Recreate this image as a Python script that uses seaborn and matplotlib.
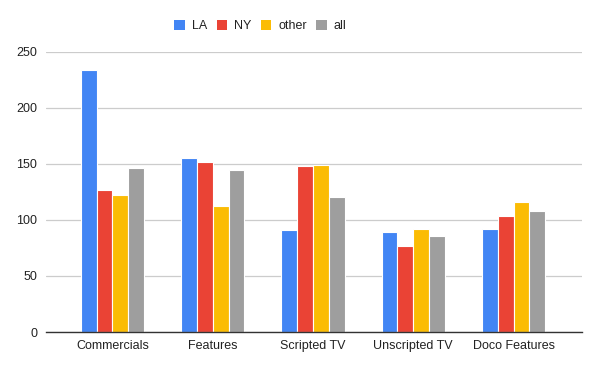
import matplotlib
matplotlib.use('Agg')
import matplotlib.pyplot as plt
import pandas as pd
import seaborn as sns

# Chart data
categories = ['Commercials', 'Features', 'Scripted TV', 'Unscripted TV', 'Doco Features']
series = ['LA', 'NY', 'other', 'all']
la = [234, 155, 91, 89, 92]
ny = [127, 152, 148, 77, 103]
other = [122, 112, 149, 92, 116]
all_ = [146, 144, 120, 86, 108]
colors = ['#4285F4', '#EA4335', '#FBBC04', '#9E9E9E']

rows = []
for name, vals in zip(series, [la, ny, other, all_]):
    for cat, v in zip(categories, vals):
        rows.append({'category': cat, 'series': name, 'value': v})
df = pd.DataFrame(rows)

sns.set_style('white')
plt.rcParams['font.family'] = ['Liberation Sans', 'DejaVu Sans']

fig = plt.figure(figsize=(6, 3.71), dpi=100)
ax = fig.add_axes([0.076, 0.105, 0.8935, 0.756])

sns.barplot(data=df, x='category', y='value', hue='series', palette=colors,
            width=0.63, edgecolor='white', linewidth=0.8, saturation=1,
            ax=ax, zorder=3)

ax.set_ylim(0, 250)
ax.set_yticks([0, 50, 100, 150, 200, 250])
ax.set_xlim(-0.667, 4.68)
ax.grid(axis='y', color='#cccccc', linewidth=0.9, zorder=0)
ax.set_axisbelow(True)
for s in ['top', 'right', 'left']:
    ax.spines[s].set_visible(False)
ax.spines['bottom'].set_color('#333333')
ax.spines['bottom'].set_linewidth(1.0)
ax.spines['bottom'].set_zorder(4)
ax.tick_params(axis='both', length=0, labelsize=9, colors='#222222', pad=6)
ax.set_xlabel('')
ax.set_ylabel('')

leg = ax.legend(loc='center left', bbox_to_anchor=(0.272, 0.93), bbox_transform=fig.transFigure,
                ncol=4, frameon=False, fontsize=9, handlelength=0.85, handleheight=0.85,
                handletextpad=0.55, columnspacing=0.75, labelcolor='#222222')
for h in leg.legend_handles:
    h.set_edgecolor('none')

fig.savefig('out.png', dpi=100)
